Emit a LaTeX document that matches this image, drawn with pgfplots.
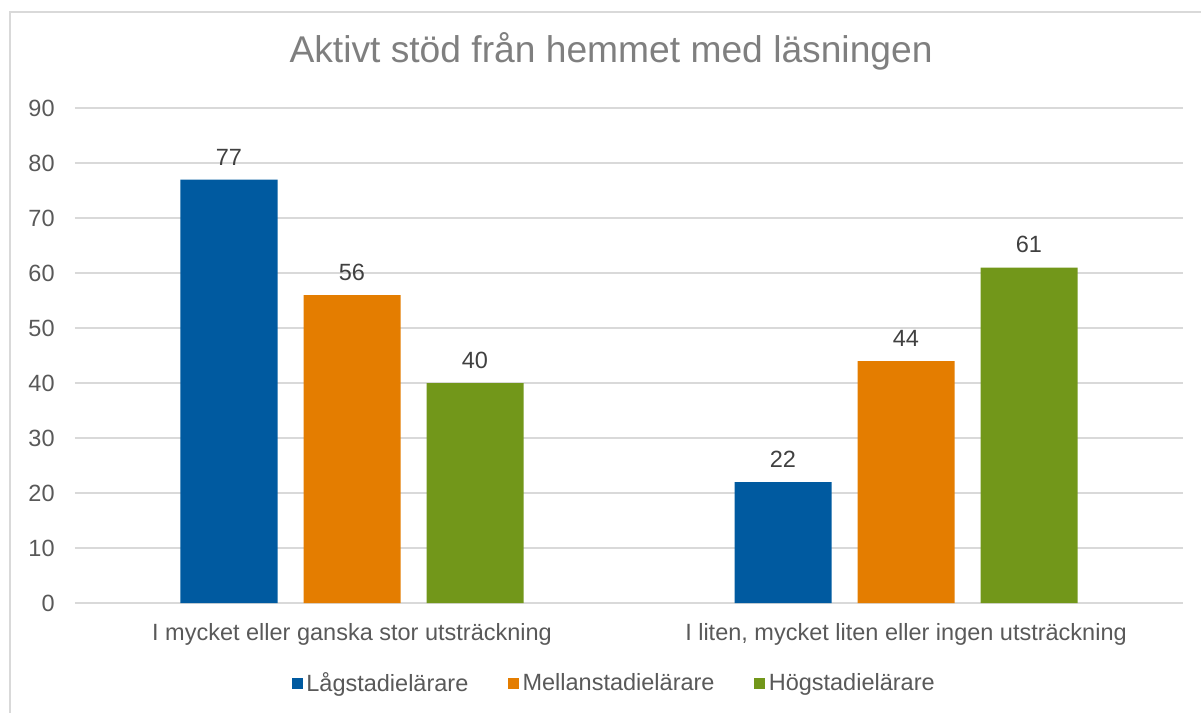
\documentclass[border=0pt]{standalone}
\usepackage{fontspec}
\setmainfont{Liberation Sans}
\usepackage{pgfplots}
\pgfplotsset{compat=1.18}
\definecolor{cblue}{HTML}{005AA0}
\definecolor{corange}{HTML}{E47D00}
\definecolor{cgreen}{HTML}{72971A}
\definecolor{gridc}{HTML}{D9D9D9}
\definecolor{tickc}{HTML}{595959}
\definecolor{labc}{HTML}{404040}
\definecolor{titlec}{HTML}{7F7F7F}
\newcommand{\lbl}{\fontsize{11.75}{14}\selectfont}
\begin{document}
\begin{tikzpicture}
\useasboundingbox (-37.5pt,-55pt) rectangle (563pt,301.5pt);
\draw[gridc, line width=0.7pt] (-32.5pt,-60pt) -- (-32.5pt,295.5pt) -- (570pt,295.5pt);
\begin{axis}[
  at={(0,0)}, anchor=south west,
  scale only axis, width=554pt, height=247.5pt,
  ybar=13pt, bar width=48.5pt,
  xmin=-0.5, xmax=1.5, ymin=0, ymax=90,
  enlarge x limits=false,
  xtick={0,1},
  xticklabels={I mycket eller ganska stor utsträckning, {I liten, mycket liten eller ingen utsträckning}},
  ytick={0,10,...,90},
  /pgf/number format/assume math mode=true,
  tick style={draw=none},
  axis line style={draw=none},
  ymajorgrids, major grid style={gridc, line width=0.65pt},
  ticklabel style={font=\lbl, text=tickc},
  yticklabel style={anchor=east, inner sep=0pt, xshift=-10pt},
  xticklabel style={anchor=north, inner sep=0pt, yshift=-6pt},
  nodes near coords,
  every node near coord/.append style={font=\lbl, text=labc, inner sep=0pt, yshift=7pt, anchor=south},
  title={Aktivt stöd från hemmet med läsningen},
  title style={at={(axis description cs:0.4838,1.0667)}, anchor=base, font=\fontsize{18.6}{22}\selectfont, text=titlec, inner sep=0pt},
  legend style={draw=none, at={(axis description cs:0.4874,-0.1636)}, anchor=center,
    font=\lbl, text=tickc, inner sep=0pt,
    /tikz/every even column/.append style={column sep=18pt},
    nodes={inner sep=1.8pt}},
  legend columns=-1,
  legend image code/.code={\fill[#1] (0pt,-2.75pt) rectangle (5.5pt,2.75pt);},
]
\addplot[fill=cblue, draw=none] coordinates {(0,77) (1,22)};
\addplot[fill=corange, draw=none] coordinates {(0,56) (1,44)};
\addplot[fill=cgreen, draw=none] coordinates {(0,40) (1,61)};
\legend{Lågstadielärare, Mellanstadielärare, Högstadielärare}
\end{axis}
\end{tikzpicture}
\end{document}
